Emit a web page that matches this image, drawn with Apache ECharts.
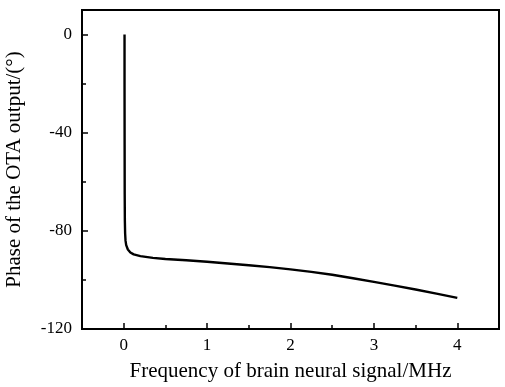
<!DOCTYPE html>
<html><head><meta charset="utf-8">
<script src="https://cdn.jsdelivr.net/npm/echarts@6/dist/echarts.min.js"></script>
<style>html,body{margin:0;padding:0;background:#fff}#c{width:505px;height:387px}</style>
</head><body><div id="c"></div>
<script>
const freqMHz = [0.01, 0.01, 0.011, 0.012, 0.014, 0.017, 0.022, 0.03, 0.05, 0.08, 0.12, 0.2, 0.35, 0.5, 0.75, 1.0, 1.25, 1.5, 1.75, 2.0, 2.25, 2.5, 2.75, 3.0, 3.25, 3.5, 3.75, 4.0];
const phaseDeg = [0, -20, -45, -65, -76, -81, -84, -85.8, -87.6, -88.8, -89.6, -90.3, -91.0, -91.5, -92.0, -92.6, -93.3, -94.0, -94.8, -95.7, -96.7, -97.9, -99.3, -100.8, -102.3, -103.9, -105.6, -107.3];
const xMajorTicks = [0, 1, 2, 3, 4];
const xMinorTicks = [0.5, 1.5, 2.5, 3.5];
const yMajorTicks = [0, -40, -80, -120];
const yMinorTicks = [-20, -60, -100];
const xTitle = 'Frequency of brain neural signal/MHz';
const yTitle = 'Phase of the OTA output/(°)';

const font = 'Liberation Serif';
const chart = echarts.init(document.getElementById('c'));
const lineStyle = {color: '#000', width: 2};
function xAx(ticks, len, labels, extra) {
  return Object.assign({
    type: 'value', min: -0.5, max: 4.5, position: 'bottom',
    splitLine: {show: false},
    axisLine: {show: true, onZero: false, lineStyle},
    axisTick: {show: true, inside: true, length: len, customValues: ticks, lineStyle: {color: '#000', width: 1.5}},
    axisLabel: labels ? {show: true, customValues: ticks, color: '#000', fontFamily: font, fontSize: 17, margin: 8} : {show: false}
  }, extra || {});
}
function yAx(ticks, len, labels, extra) {
  return Object.assign({
    type: 'value', min: -120, max: 10, position: 'left',
    splitLine: {show: false},
    axisLine: {show: true, onZero: false, lineStyle},
    axisTick: {show: true, inside: true, length: len, customValues: ticks, lineStyle: {color: '#000', width: 1.5}},
    axisLabel: labels ? {show: true, customValues: ticks, color: '#000', fontFamily: font, fontSize: 17, margin: 10} : {show: false}
  }, extra || {});
}
chart.setOption({
  animation: false,
  backgroundColor: '#fff',
  grid: {left: 82, right: 6, top: 10, bottom: 58, outerBoundsMode: 'none', containLabel: false, show: true, borderColor: '#000', borderWidth: 2, backgroundColor: 'transparent'},
  xAxis: [
    xAx(xMajorTicks, 6, true, {name: xTitle, nameLocation: 'middle', nameGap: 32, nameTextStyle: {color: '#000', fontFamily: font, fontSize: 21}}),
    xAx(xMinorTicks, 4, false)
  ],
  yAxis: [
    yAx(yMajorTicks, 6, true, {name: yTitle, nameLocation: 'middle', nameGap: 57, nameTextStyle: {color: '#000', fontFamily: font, fontSize: 21}}),
    yAx(yMinorTicks, 4, false)
  ],
  series: [{
    type: 'line', xAxisIndex: 0, yAxisIndex: 0, showSymbol: false, smooth: false,
    data: freqMHz.map((f, i) => [f, phaseDeg[i]]),
    lineStyle: {color: '#000', width: 2.4}
  }]
});
</script></body></html>
